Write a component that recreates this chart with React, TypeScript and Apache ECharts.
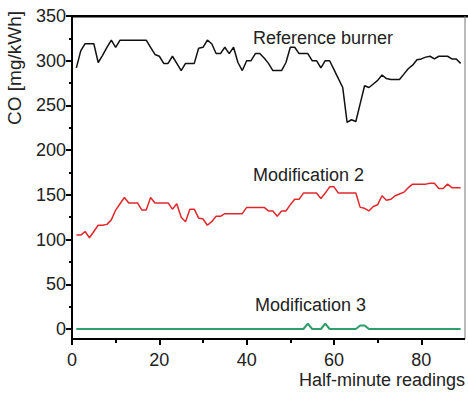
import React, { useEffect, useRef } from "react";
import * as echarts from "echarts";

const referenceBurner = [
  292, 311, 319, 319, 319, 298, 306, 315, 323, 315,
  323, 323, 323, 323, 323, 323, 323, 315, 307, 305,
  297, 297, 305, 297, 289, 297, 297, 297, 314, 315,
  323, 319, 308, 308, 315, 308, 315, 298, 289, 300,
  300, 308, 308, 303, 297, 289, 289, 289, 298, 315,
  315, 308, 308, 308, 300, 300, 292, 300, 300, 290,
  280, 270, 231, 234, 232, 252, 272, 270, 274, 278,
  284, 280, 279, 279, 279, 285, 291, 295, 301, 302,
  304, 305, 302, 305, 305, 305, 302, 302, 297,
];
const modification2 = [
  105, 105, 109, 102, 109, 116, 116, 117, 122, 133,
  140, 147, 141, 141, 141, 133, 133, 147, 141, 141,
  141, 141, 134, 140, 125, 120, 134, 134, 124, 123,
  116, 120, 126, 126, 129, 129, 129, 129, 129, 136,
  136, 136, 136, 136, 132, 132, 126, 132, 132, 139,
  145, 145, 152, 152, 152, 152, 146, 152, 159, 159,
  152, 152, 152, 152, 152, 136, 135, 132, 137, 139,
  149, 144, 145, 149, 151, 153, 158, 162, 162, 162,
  162, 163, 163, 157, 157, 162, 158, 158, 158,
];
const modification3 = [
  0, 0, 0, 0, 0, 0, 0, 0, 0, 0,
  0, 0, 0, 0, 0, 0, 0, 0, 0, 0,
  0, 0, 0, 0, 0, 0, 0, 0, 0, 0,
  0, 0, 0, 0, 0, 0, 0, 0, 0, 0,
  0, 0, 0, 0, 0, 0, 0, 0, 0, 0,
  0, 0, 0, 6, 0, 0, 0, 6, 0, 0,
  0, 0, 0, 0, 0, 4, 4, 0, 0, 0,
  0, 0, 0, 0, 0, 0, 0, 0, 0, 0,
  0, 0, 0, 0, 0, 0, 0, 0, 0,
];
const seriesNames = ["Reference burner", "Modification 2", "Modification 3"];
const xMajorTicks = [0, 20, 40, 60, 80];
const xMinorTicks = [10, 30, 50, 70];
const yTitle = "CO [mg/kWh]";
const xTitle = "Half-minute readings";

const FONT = "'Liberation Sans', Arial, Helvetica, sans-serif";
const TXT = "#222";

const toPairs = (vals: number[]) => vals.map((v, i) => [i + 1, v]);

export default function App() {
  const ref = useRef<HTMLDivElement>(null);
  useEffect(() => {
    if (!ref.current) return;
    const chart = echarts.init(ref.current, null, { renderer: "svg" });
    const left = 72;
    const top = 16;
    const bottom = 65;
    const xOffset = 10;
    const H = 394;
    const W = 468;
    const right = 465;
    const axisY = H - bottom + xOffset;
    chart.setOption({
      animation: false,
      backgroundColor: "#fff",
      grid: { left, right: W - right, top, bottom, containLabel: false },
      xAxis: [
        {
          type: "value",
          min: 0,
          max: 90,
          interval: 20,
          offset: xOffset,
          splitLine: { show: false },
          axisLine: { show: false, onZero: false },
          axisTick: {
            show: true,
            inside: false,
            length: 6,
            customValues: xMajorTicks,
            lineStyle: { color: "#000", width: 2 },
          },
          axisLabel: {
            customValues: xMajorTicks,
            color: TXT,
            fontSize: 18,
            fontFamily: FONT,
            margin: 12,
          },
        },
        {
          type: "value",
          min: 0,
          max: 90,
          interval: 10,
          offset: xOffset,
          position: "bottom",
          splitLine: { show: false },
          axisLine: { show: false, onZero: false },
          axisTick: {
            show: true,
            length: 4,
            customValues: xMinorTicks,
            lineStyle: { color: "#000", width: 2 },
          },
          axisLabel: { show: false },
        },
      ],
      yAxis: {
        type: "value",
        min: 0,
        max: 350,
        interval: 50,
        splitLine: { show: false },
        axisLine: { show: true, onZero: false, lineStyle: { color: "#000", width: 2 } },
        axisTick: { show: true, length: 6, lineStyle: { color: "#000", width: 2 } },
        minorTick: { show: true, splitNumber: 2, length: 3, lineStyle: { color: "#000", width: 2 } },
        axisLabel: { color: TXT, fontSize: 18, fontFamily: FONT, margin: 6 },
      },
      series: [
        {
          name: seriesNames[0],
          type: "line",
          data: toPairs(referenceBurner),
          showSymbol: false,
          lineStyle: { color: "#111", width: 1.5 },
          itemStyle: { color: "#111" },
        },
        {
          name: seriesNames[1],
          type: "line",
          data: toPairs(modification2),
          showSymbol: false,
          lineStyle: { color: "#e0282c", width: 1.5 },
          itemStyle: { color: "#e0282c" },
        },
        {
          name: seriesNames[2],
          type: "line",
          data: toPairs(modification3),
          showSymbol: false,
          lineStyle: { color: "#2e9e6b", width: 2 },
          itemStyle: { color: "#2e9e6b" },
        },
      ],
      graphic: [
        { type: "rect", shape: { x: left, y: top - 1, width: W - left, height: 2.5 }, style: { fill: "#000" } },
        { type: "rect", shape: { x: right - 0.5, y: top, width: 1, height: axisY - top }, style: { fill: "#777" } },
        { type: "rect", shape: { x: left - 1, y: H - bottom, width: 2, height: axisY - (H - bottom) + 1 }, style: { fill: "#000" } },
        { type: "rect", shape: { x: left - 1, y: axisY - 1, width: right - left + 1, height: 2 }, style: { fill: "#000" } },
        {
          type: "text",
          x: 14,
          y: 68,
          rotation: Math.PI / 2,
          style: { text: yTitle, fill: TXT, font: `19px ${FONT}`, textAlign: "center", textVerticalAlign: "middle" },
        },
        {
          type: "text",
          x: 465,
          y: 380,
          style: { text: xTitle, fill: TXT, font: `18px ${FONT}`, textAlign: "right", textVerticalAlign: "middle" },
        },
        {
          type: "text",
          x: 253,
          y: 38,
          style: { text: seriesNames[0], fill: TXT, font: `18px ${FONT}`, textAlign: "left", textVerticalAlign: "middle" },
        },
        {
          type: "text",
          x: 253,
          y: 175,
          style: { text: seriesNames[1], fill: TXT, font: `18px ${FONT}`, textAlign: "left", textVerticalAlign: "middle" },
        },
        {
          type: "text",
          x: 255,
          y: 305,
          style: { text: seriesNames[2], fill: TXT, font: `18px ${FONT}`, textAlign: "left", textVerticalAlign: "middle" },
        },
      ],
    });
    return () => chart.dispose();
  }, []);
  return (
    <div
      ref={ref}
      style={{ position: "fixed", left: 0, top: 0, width: 468, height: 394, background: "#fff" }}
    />
  );
}
